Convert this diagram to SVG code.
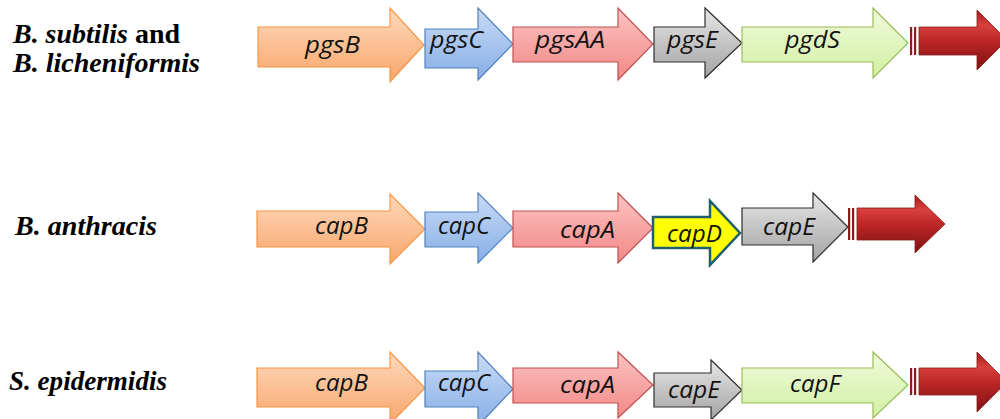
<svg xmlns="http://www.w3.org/2000/svg" width="1000" height="419" viewBox="0 0 1000 419">
<defs>
<linearGradient id="gO" x1="0" y1="0" x2="0" y2="1"><stop offset="0" stop-color="#fdd9bd"/><stop offset="1" stop-color="#f9a66a"/></linearGradient>
<linearGradient id="gB" x1="0" y1="0" x2="0" y2="1"><stop offset="0" stop-color="#c9dbf6"/><stop offset="1" stop-color="#86aee6"/></linearGradient>
<linearGradient id="gP" x1="0" y1="0" x2="0" y2="1"><stop offset="0" stop-color="#fbc4c3"/><stop offset="1" stop-color="#f28886"/></linearGradient>
<linearGradient id="gG" x1="0" y1="0" x2="0" y2="1"><stop offset="0" stop-color="#e6e6e6"/><stop offset="1" stop-color="#a3a3a3"/></linearGradient>
<linearGradient id="gL" x1="0" y1="0" x2="0" y2="1"><stop offset="0" stop-color="#f0fadc"/><stop offset="1" stop-color="#d2f0a2"/></linearGradient>
<linearGradient id="gR" x1="0" y1="0" x2="0" y2="1"><stop offset="0" stop-color="#9e1c1c"/><stop offset="0.25" stop-color="#d8403c"/><stop offset="0.55" stop-color="#b82424"/><stop offset="1" stop-color="#7e1212"/></linearGradient>
</defs>
<style>
.o{fill:url(#gO);stroke:#f79646;stroke-width:1.2}
.b{fill:url(#gB);stroke:#4f81bd;stroke-width:1.2}
.p{fill:url(#gP);stroke:#c0504d;stroke-width:1.2}
.g{fill:url(#gG);stroke:#2e2e2e;stroke-width:1.2}
.l{fill:url(#gL);stroke:#9bbb59;stroke-width:1.2}
.y{fill:#ffff00;stroke:#215f6e;stroke-width:2.5}
.r{fill:url(#gR);stroke:#8a1a1a;stroke-width:0.8}
.s{fill:#8e1b1b}
.t{font-family:"Open Sans","Liberation Sans",sans-serif;font-style:italic;font-size:23px;fill:#111}
.sp{font-family:"Liberation Serif",serif;font-weight:bold;font-style:italic;font-size:27px;fill:#000}
.n{font-style:normal}
</style>
<g id="labels">
<text class="sp" x="13" y="43" textLength="167" lengthAdjust="spacingAndGlyphs">B. subtilis <tspan class="n">and</tspan></text>
<text class="sp" x="13" y="72" textLength="187" lengthAdjust="spacingAndGlyphs">B. licheniformis</text>
<text class="sp" x="15" y="235" textLength="142" lengthAdjust="spacingAndGlyphs">B. anthracis</text>
<text class="sp" x="9" y="390" textLength="158" lengthAdjust="spacingAndGlyphs">S. epidermidis</text>
</g>
<g id="row1">
<g id="pgsB"><polygon class="o" points="258,27 390,27 390,8 424,45 390,82 390,67 258,67"/><text class="t" x="305" y="53" textLength="55" lengthAdjust="spacingAndGlyphs">pgsB</text></g>
<g id="pgsC"><polygon class="b" points="425,29 478,29 478,8 513,44 478,80 478,68 425,68"/><text class="t" x="430" y="48" textLength="53" lengthAdjust="spacingAndGlyphs">pgsC</text></g>
<g id="pgsAA"><polygon class="p" points="513,27 618,27 618,8 653,44 618,80 618,62 513,62"/><text class="t" x="535" y="48" textLength="70" lengthAdjust="spacingAndGlyphs">pgsAA</text></g>
<g id="pgsE"><polygon class="g" points="654,27 705,27 705,8 742,43 705,78 705,62 654,62"/><text class="t" x="667" y="48" textLength="51" lengthAdjust="spacingAndGlyphs">pgsE</text></g>
<g id="pgdS"><polygon class="l" points="742,27 873,27 873,8 908,43 873,78 873,62 742,62"/><text class="t" x="785" y="48" textLength="55" lengthAdjust="spacingAndGlyphs">pgdS</text></g>
<g id="red1"><rect class="s" x="910" y="27" width="2.2" height="28"/><rect class="s" x="914" y="27" width="2.2" height="28"/><polygon class="r" points="919,27 977,27 977,10 1007,40 977,70 977,55 919,55"/></g>
</g>
<g id="row2">
<g id="capB1"><polygon class="o" points="257,211 390,211 390,194 425,229 390,264 390,247 257,247"/><text class="t" x="315" y="234" textLength="53" lengthAdjust="spacingAndGlyphs">capB</text></g>
<g id="capC1"><polygon class="b" points="425,212 478,212 478,193 513,228 478,263 478,247 425,247"/><text class="t" x="438" y="234" textLength="52" lengthAdjust="spacingAndGlyphs">capC</text></g>
<g id="capA1"><polygon class="p" points="513,211 618,211 618,193 653,228 618,263 618,247 513,247"/><text class="t" x="560" y="238" textLength="55" lengthAdjust="spacingAndGlyphs">capA</text></g>
<g id="capD"><polygon class="y" points="653,217 710,217 710,201 740,233 710,265 710,248 653,248"/><text class="t" x="667" y="242" textLength="55" lengthAdjust="spacingAndGlyphs">capD</text></g>
<g id="capE1"><polygon class="g" points="742,208 813,208 813,193 848,227 813,262 813,245 742,245"/><text class="t" x="763" y="235" textLength="52" lengthAdjust="spacingAndGlyphs">capE</text></g>
<g id="red2"><rect class="s" x="848" y="208" width="2.2" height="32"/><rect class="s" x="852" y="208" width="2.2" height="32"/><polygon class="r" points="857,208 915,208 915,195 945,224 915,253 915,240 857,240"/></g>
</g>
<g id="row3">
<g id="capB2"><polygon class="o" points="257,368 390,368 390,352 425,388 390,424 390,407 257,407"/><text class="t" x="315" y="391" textLength="53" lengthAdjust="spacingAndGlyphs">capB</text></g>
<g id="capC2"><polygon class="b" points="425,371 478,371 478,352 513,389 478,426 478,407 425,407"/><text class="t" x="438" y="391" textLength="52" lengthAdjust="spacingAndGlyphs">capC</text></g>
<g id="capA2"><polygon class="p" points="513,368 618,368 618,352 653,385 618,418 618,403 513,403"/><text class="t" x="560" y="393" textLength="55" lengthAdjust="spacingAndGlyphs">capA</text></g>
<g id="capE2"><polygon class="g" points="654,373 711,373 711,360 742,390 711,420 711,407 654,407"/><text class="t" x="668" y="398" textLength="52" lengthAdjust="spacingAndGlyphs">capE</text></g>
<g id="capF"><polygon class="l" points="742,368 873,368 873,352 908,385 873,418 873,403 742,403"/><text class="t" x="790" y="392" textLength="50" lengthAdjust="spacingAndGlyphs">capF</text></g>
<g id="red3"><rect class="s" x="910" y="368" width="2.2" height="27"/><rect class="s" x="914" y="368" width="2.2" height="27"/><polygon class="r" points="919,368 977,368 977,352 1007,382 977,412 977,395 919,395"/></g>
</g>
<g id="connectors"/>
</svg>
